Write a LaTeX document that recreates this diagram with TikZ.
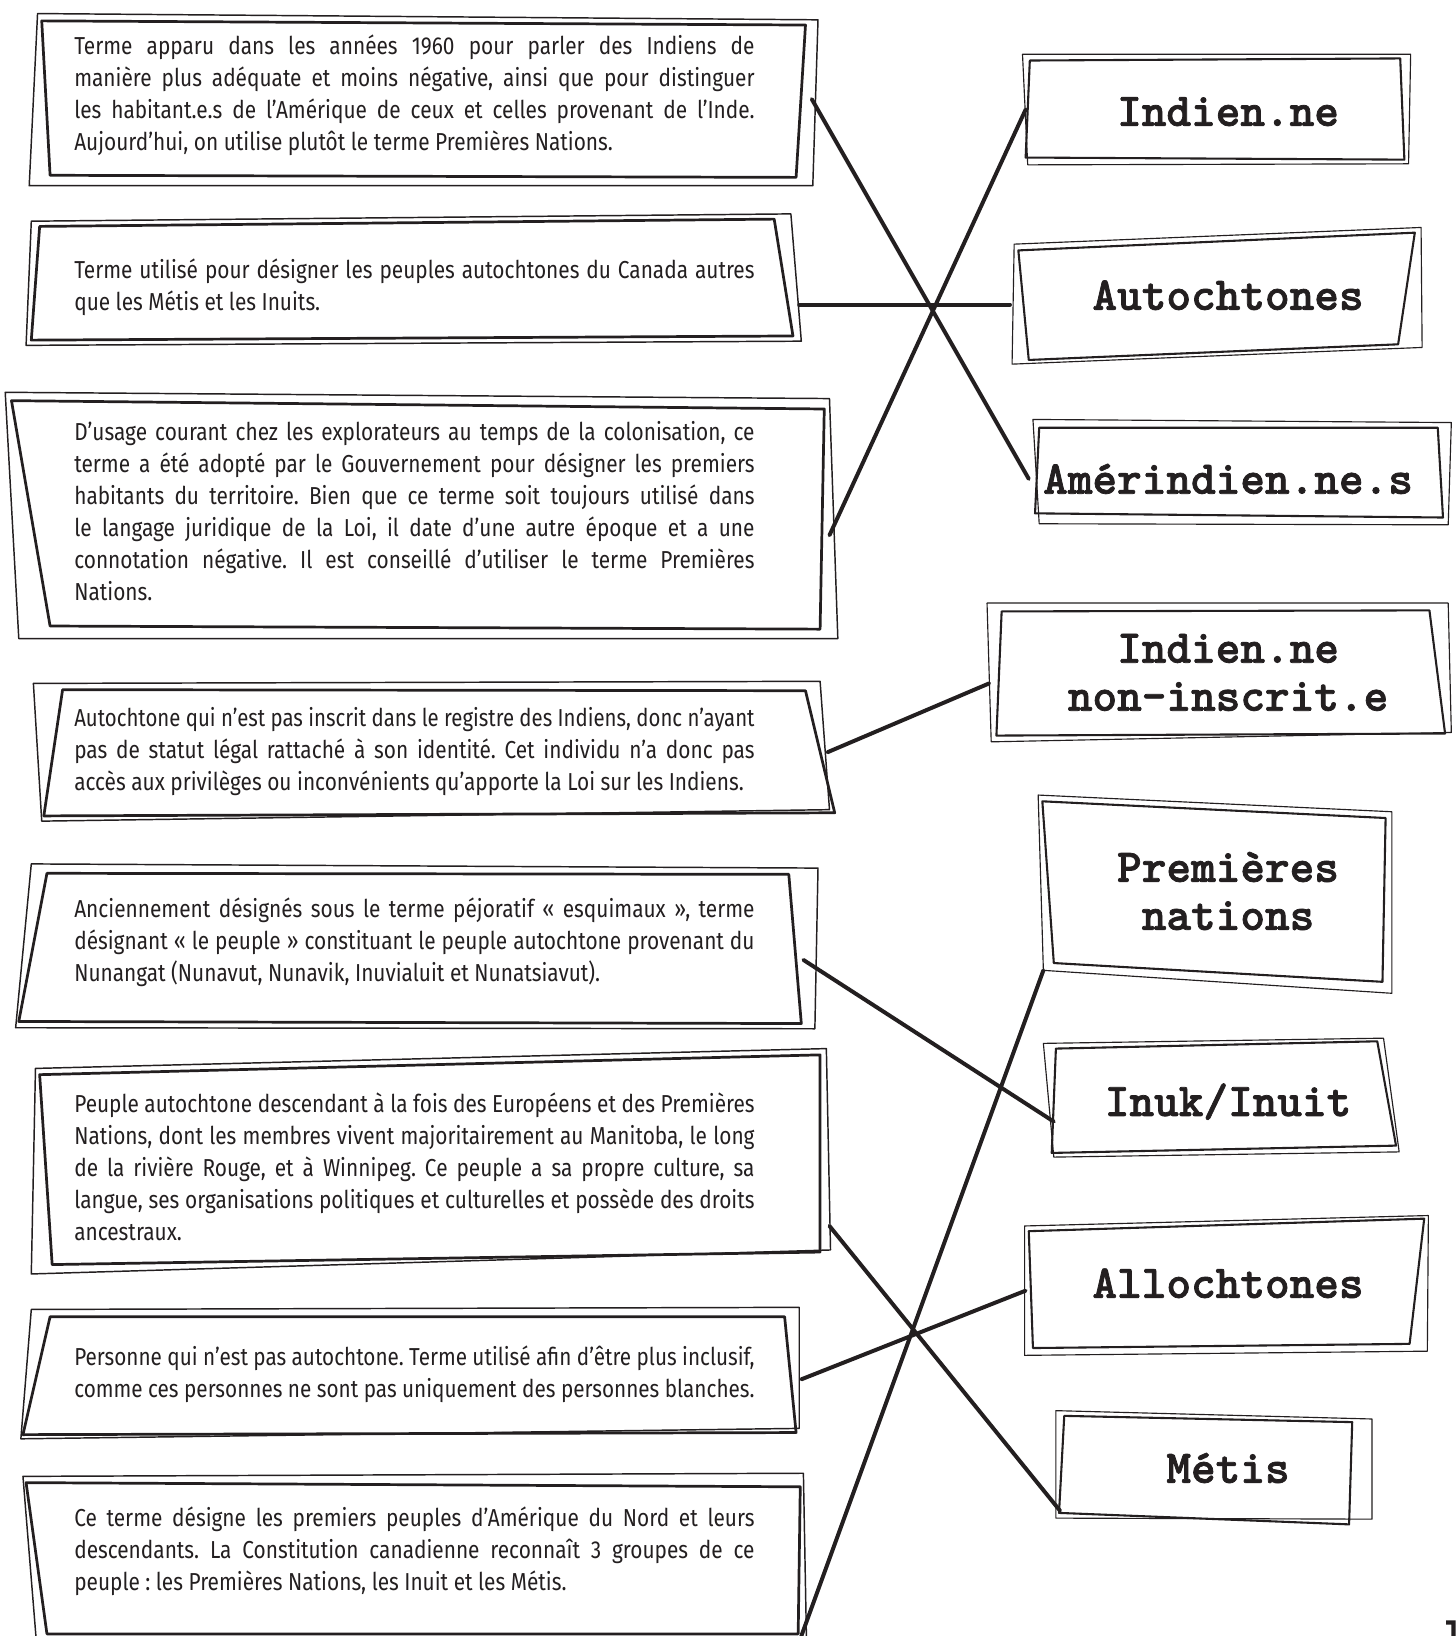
\documentclass[tikz,border=0pt]{standalone}
\usepackage{fontspec}
\usepackage{graphicx}
\setmainfont{Fira Sans}[FakeStretch=0.85]
\newfontfamily\headfont{lmmonolt10-bold.otf}[FakeBold=1.6]
\definecolor{ink}{HTML}{231F20}
\newsavebox\linebox
\newcommand\js[1]{\sbox\linebox{#1}\ifdim\wd\linebox>652pt\resizebox{652pt}{\ht\linebox}{\usebox\linebox}\else\makebox[652pt][s]{#1}\fi}
\frenchspacing
\begin{document}
\begin{tikzpicture}[x=1pt,y=-1pt,line join=round,line cap=round,
  inr/.style={draw=ink,line width=2.6pt},
  outr/.style={draw=ink,line width=1.4pt},
  rin/.style={draw=ink,line width=2pt},
  rout/.style={draw=ink,line width=1.1pt},
  area/.style={rectangle,inner sep=0pt,outer sep=0pt},
  body/.style={anchor=west,inner sep=0pt,align=left,text=ink,font=\fontsize{23.5}{30.7}\selectfont\frenchspacing},
  head/.style={inner sep=0pt,align=center,text=ink,font=\headfont\fontsize{45}{46}\selectfont},
  link/.style={draw=ink,line width=3.8pt}]
\fill[white] (0,0) rectangle (1395,1568);
\useasboundingbox (0,0) rectangle (1395,1568);

% ---------- left boxes (areas) ----------
\node[area,minimum width=738pt,minimum height=150pt] (b1) at (409,95) {};
\node[area,minimum width=731pt,minimum height=115pt] (b2) at (400.5,267.5) {};
\node[area,minimum width=785pt,minimum height=220pt] (b3) at (402.5,495) {};
\node[area,minimum width=753pt,minimum height=122pt] (b4) at (416.5,721) {};
\node[area,minimum width=740pt,minimum height=147pt] (b5) at (400,908.5) {};
\node[area,minimum width=755pt,minimum height=195pt] (b6) at (417.5,1112.5) {};
\node[area,minimum width=738pt,minimum height=115pt] (b7) at (399,1317.5) {};
\node[area,minimum width=738pt,minimum height=148pt] (b8) at (399,1494) {};

% ---------- right boxes (areas) ----------
\node[area,minimum width=363pt,minimum height=100pt] (r1) at (1164.5,105) {};
\node[area,minimum width=387pt,minimum height=110pt] (r2) at (1161.5,285) {};
\node[area,minimum width=399pt,minimum height=90pt] (r3) at (1185.5,453) {};
\node[area,minimum width=440pt,minimum height=124pt] (r4) at (1168,644) {};
\node[area,minimum width=330pt,minimum height=162pt] (r5) at (1165,849) {};
\node[area,minimum width=328pt,minimum height=102pt] (r6) at (1174,1051) {};
\node[area,minimum width=377pt,minimum height=120pt] (r7) at (1171.5,1232) {};
\node[area,minimum width=284pt,minimum height=98pt] (r8) at (1158,1407) {};

% ---------- sketchy outlines, left ----------
\draw[inr] (40,20) -- (772,24) -- (763,170) -- (48,168) -- cycle;
\draw[outr] (36,13) -- (784,19) -- (779,178) -- (28,178) -- cycle;
\draw[inr] (38,217) -- (742,210) -- (760,322) -- (30,326) -- cycle;
\draw[outr] (30,212) -- (758,205) -- (768,327) -- (25,331) -- cycle;
\draw[inr] (11,384) -- (790,392) -- (786,603) -- (48,600) -- cycle;
\draw[outr] (5,376) -- (795,382) -- (803,612) -- (18,612) -- cycle;
\draw[inr] (60,661) -- (772,662) -- (800,779) -- (42,782) -- cycle;
\draw[outr] (32,655) -- (786,653) -- (795,776) -- (40,787) -- cycle;
\draw[inr] (45,837) -- (756,838) -- (768,981) -- (18,979) -- cycle;
\draw[outr] (30,828) -- (784,832) -- (781,986) -- (15,985) -- cycle;
\draw[inr] (38,1030) -- (786,1011) -- (786,1200) -- (50,1212) -- cycle;
\draw[outr] (34,1024) -- (792,1005) -- (796,1198) -- (30,1221) -- cycle;
\draw[inr] (48,1262) -- (752,1262) -- (763,1373) -- (22,1375) -- cycle;
\draw[outr] (30,1255) -- (766,1253) -- (766,1369) -- (20,1379) -- cycle;
\draw[inr] (25,1421) -- (767,1425) -- (765,1566) -- (45,1566) -- cycle;
\draw[outr] (22,1415) -- (770,1412) -- (773,1575) -- (35,1575) -- cycle;

% ---------- sketchy outlines, right ----------
\draw[rin] (987,58) -- (1342,56) -- (1346,153) -- (983,151) -- cycle;
\draw[rout] (980,52) -- (1352,52) -- (1350,157) -- (985,158) -- cycle;
\draw[rin] (976,240) -- (1356,223) -- (1340,330) -- (986,345) -- cycle;
\draw[rout] (972,234) -- (1362,218) -- (1363,333) -- (970,349) -- cycle;
\draw[rin] (996,410) -- (1378,410) -- (1383,496) -- (992,492) -- cycle;
\draw[rout] (990,402) -- (1391,405) -- (1388,503) -- (996,502) -- cycle;
\draw[rin] (960,586) -- (1370,585) -- (1385,703) -- (955,705) -- cycle;
\draw[rout] (946,578) -- (1388,578) -- (1391,702) -- (950,711) -- cycle;
\draw[rin] (999,768) -- (1328,784) -- (1325,941) -- (1010,923) -- cycle;
\draw[rout] (995,762) -- (1334,778) -- (1334,952) -- (1000,930) -- cycle;
\draw[rin] (1012,1005) -- (1320,998) -- (1338,1098) -- (1008,1105) -- cycle;
\draw[rout] (1000,1000) -- (1326,995) -- (1341,1104) -- (1010,1109) -- cycle;
\draw[rin] (986,1180) -- (1365,1168) -- (1351,1288) -- (990,1292) -- cycle;
\draw[rout] (982,1175) -- (1369,1165) -- (1368,1295) -- (982,1299) -- cycle;
\draw[rin] (1020,1357) -- (1296,1363) -- (1293,1461) -- (1015,1450) -- cycle;
\draw[rout] (1012,1352) -- (1315,1360) -- (1315,1456) -- (1012,1455) -- cycle;

% ---------- texts ----------
\node[body] (t1) at (71,91) {\js{Terme apparu dans les années 1960 pour parler des Indiens de}\\
\js{manière plus adéquate et moins négative, ainsi que pour distinguer}\\
\js{les habitant.e.s de l’Amérique de ceux et celles provenant de l’Inde.}\\
Aujourd’hui, on utilise plutôt le terme Premières Nations.};
\node[body] (t2) at (71,275.5) {\js{Terme utilisé pour désigner les peuples autochtones du Canada autres}\\
que les Métis et les Inuits.};
\node[body] (t3) at (71,489.5) {\js{D’usage courant chez les explorateurs au temps de la colonisation, ce}\\
\js{terme a été adopté par le Gouvernement pour désigner les premiers}\\
\js{habitants du territoire. Bien que ce terme soit toujours utilisé dans}\\
\js{le langage juridique de la Loi, il date d’une autre époque et a une}\\
\js{connotation négative. Il est conseillé d’utiliser le terme Premières}\\
Nations.};
\node[body] (t4) at (71,720) {\js{Autochtone qui n’est pas inscrit dans le registre des Indiens, donc n’ayant}\\
\js{pas de statut légal rattaché à son identité. Cet individu n’a donc pas}\\
accès aux privilèges ou inconvénients qu’apporte la Loi sur les Indiens.};
\node[body] (t5) at (71,903.5) {\js{Anciennement désignés sous le terme péjoratif «~esquimaux~», terme}\\
\js{désignant «~le peuple~» constituant le peuple autochtone provenant du}\\
Nunangat (Nunavut, Nunavik, Inuvialuit et Nunatsiavut).};
\node[body] (t6) at (71,1118.5) {\js{Peuple autochtone descendant à la fois des Européens et des Premières}\\
\js{Nations, dont les membres vivent majoritairement au Manitoba, le long}\\
\js{de la rivière Rouge, et à Winnipeg. Ce peuple a sa propre culture, sa}\\
\js{langue, ses organisations politiques et culturelles et possède des droits}\\
ancestraux.};
\node[body] (t7) at (71,1317.5) {\js{Personne qui n’est pas autochtone. Terme utilisé afin d’être plus inclusif,}\\
\js{comme ces personnes ne sont pas uniquement des personnes blanches.}};
\node[body] (t8) at (71,1486.5) {\js{Ce terme désigne les premiers peuples d’Amérique du Nord et leurs}\\
\js{descendants. La Constitution canadienne reconnaît 3 groupes de ce}\\
peuple~: les Premières Nations, les Inuit et les Métis.};

% ---------- headings ----------
\node[head] (h1) at (1177,107) {Indien.ne};
\node[head] (h2) at (1177,283) {Autochtones};
\node[head] (h3) at (1177,459) {Amérindien.ne.s};
\node[head] (h4) at (1177,644.5) {Indien.ne\\non-inscrit.e};
\node[head] (h5) at (1177,854) {Premières\\nations};
\node[head,text depth=0pt] (h6) at (1177,1054) {Inuk/Inuit};
\node[head] (h7) at (1177,1230) {Allochtones};
\node[head] (h8) at (1177,1407) {Métis};

% ---------- connectors ----------
\draw[link] (b1.east) -- ([yshift=-6pt]r3.west);
\draw[link] ([yshift=-24.5pt]b2.east) -- ([yshift=-7pt]r2.west);
\draw[link] ([yshift=-18pt]b3.east) -- (r1.west);
\draw[link] (b4.east) -- ([yshift=-11pt]r4.west);
\draw[link] ([yshift=-11.5pt]b5.east) -- ([yshift=-24pt]r6.west);
\draw[link] ([yshift=-62.5pt]b6.east) -- ([yshift=-41pt]r8.west);
\draw[link] ([yshift=-4.5pt]b7.east) -- ([yshift=-5pt]r7.west);
\draw[link] (b8.south east) -- (r5.south west);

% small cut-off mark, bottom right
\fill[ink] (1386,1553) -- (1395,1553) -- (1395,1568) -- (1391,1568) -- (1391,1557) -- (1386,1557) -- cycle;
\end{tikzpicture}
\end{document}
